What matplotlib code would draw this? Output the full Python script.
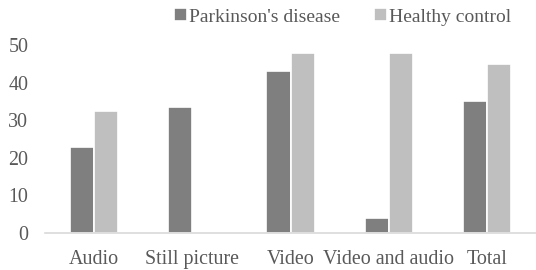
import matplotlib
matplotlib.use("Agg")
import matplotlib.pyplot as plt
import numpy as np

categories = ["Audio", "Still picture", "Video", "Video and audio", "Total"]
parkinsons = [23, 33.5, 43, 4, 35]
healthy = [32.5, 0, 48, 48, 45]
series_names = ["Parkinson's disease", "Healthy control"]
yticks = [0, 10, 20, 30, 40, 50]

plt.rcParams['font.family'] = ['Liberation Serif', 'DejaVu Serif']
fig = plt.figure(figsize=(5.36, 2.70), dpi=100)
ax = fig.add_axes([45/536, 1 - 233/270, (536 - 45)/536, (233 - 45)/270])

x = np.arange(len(categories))
w = 0.245
ax.bar(x - w/2, parkinsons, w, color='#7f7f7f', edgecolor='white', linewidth=1.2, label=series_names[0])
ax.bar(x + w/2, healthy, w, color='#bfbfbf', edgecolor='white', linewidth=1.2, label=series_names[1])

fs = 14.4
ax.set_xlim(-0.5, len(categories) - 0.5)
ax.set_ylim(0, 50)
ax.set_yticks(yticks)
ax.set_xticks(x)
ax.set_xticklabels(categories)
for s in ['top', 'right', 'left']:
    ax.spines[s].set_visible(False)
ax.spines['bottom'].set_color('#d9d9d9')
ax.spines['bottom'].set_linewidth(1.2)
ax.tick_params(axis='both', length=0, labelsize=fs, colors='#595959')
ax.tick_params(axis='y', pad=12)
ax.tick_params(axis='x', pad=12)

leg = fig.legend(loc='center right', bbox_to_anchor=(511/536, 1 - 17/270), ncol=2, frameon=False,
                 prop={'family': 'Liberation Serif', 'size': 14.0},
                 handlelength=0.65, handleheight=0.65, handletextpad=0.12,
                 columnspacing=1.75, borderaxespad=0, borderpad=0.0)
for t in leg.get_texts():
    t.set_color('#595959')

fig.savefig('out.png', dpi=100)
